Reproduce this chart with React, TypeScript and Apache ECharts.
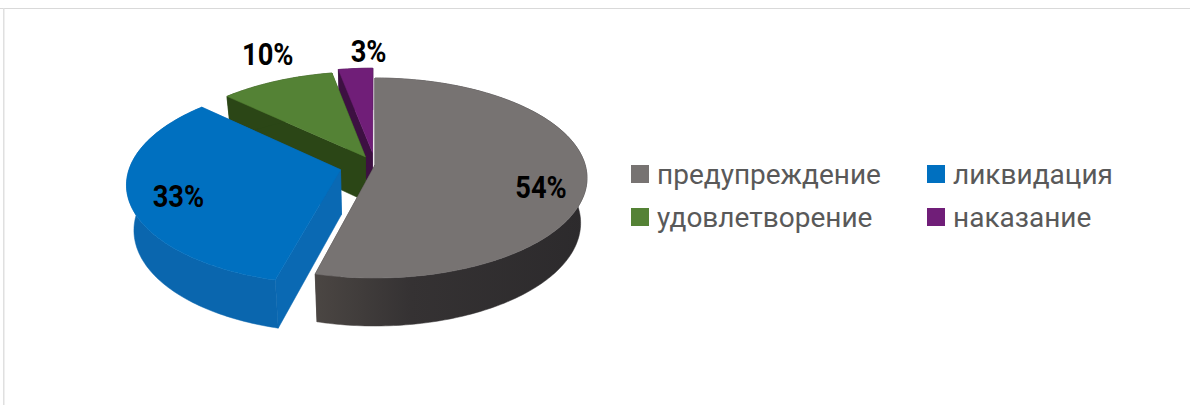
import React, { useEffect, useRef } from "react";
import * as echarts from "echarts";

const categories = ["предупреждение", "ликвидация", "удовлетворение", "наказание"];
const shares = [54, 33, 10, 3];
const topColors = ["#777372", "#0070C0", "#548235", "#701E78"];
const sideColors: any[] = [
  { type: "linear", x: 0, y: 0, x2: 1, y2: 0, colorStops: [{ offset: 0, color: "#4b4643" }, { offset: 0.35, color: "#353233" }, { offset: 1, color: "#2c2a2c" }] },
  "#0a66ae",
  "#2b4616",
  "#3d1042",
];
const cutColors = ["#3a3735", "#0a69b3", "#2b4616", "#3d1042"];
const explode = [0, 0.17, 0.095, 0.13];
const labelRadius = [0.8, 0.78, 1.2, 1.2];
const labelShift = [[-3, 12], [2, 4], [7, -13], [16, -3]];
const paintOrder = [3, 2, 0, 1];

const CX = 375, CY = 178, RX = 212, RY = 100, E = -0.13, BOTTOM_SHRINK = 0.97;
const S = Math.sqrt(1 - E * E);

function project(wx: number, wy: number) {
  const den = 1 + E * wy;
  const px = (wx * S) / den;
  const py = (wy + E) / den;
  return { x: CX + px * RX, y: CY + py * RY, depth: 45 + 3 * py };
}

const total = shares.reduce((a, b) => a + b, 0);
function sliceAngles(i: number) {
  let start = 0;
  for (let k = 0; k < i; k++) start += (shares[k] / total) * 360;
  return [start, start + (shares[i] / total) * 360];
}

function renderSlice(params: any, api: any) {
  const i = params.seriesIndex;
  const idx = paintOrder[i];
  const [a0, a1] = sliceAngles(idx);
  const rad = Math.PI / 180;
  const mid = ((a0 + a1) / 2) * rad;
  const ox = Math.sin(mid) * explode[idx];
  const oy = -Math.cos(mid) * explode[idx];
  const n = Math.max(4, Math.ceil(a1 - a0));
  const arc: any[] = [];
  for (let k = 0; k <= n; k++) {
    const t = (a0 + ((a1 - a0) * k) / n) * rad;
    arc.push(project(ox + Math.sin(t), oy - Math.cos(t)));
  }
  const apex = project(ox, oy);
  const down = (p: any) => [CX + (p.x - CX) * BOTTOM_SHRINK, p.y + p.depth];
  const up = (p: any) => [p.x, p.y];
  const outer = arc.map(up).concat(arc.slice().reverse().map(down));
  const first = arc[0], last = arc[arc.length - 1];
  const cut1 = [up(apex), up(first), down(first), down(apex)];
  const cut2 = [up(apex), up(last), down(last), down(apex)];
  const top = [up(apex)].concat(arc.map(up));
  const lab = project(ox + Math.sin(mid) * labelRadius[idx], oy - Math.cos(mid) * labelRadius[idx]);
  const poly = (points: any, fill: any) => ({ type: "polygon", shape: { points }, style: { fill, stroke: fill, lineWidth: 0.5 } });
  return {
    type: "group",
    children: [
      poly(cut2, cutColors[idx]),
      poly(cut1, cutColors[idx]),
      poly(outer, sideColors[idx]),
      poly(top, topColors[idx]),
      {
        type: "text",
        x: lab.x + labelShift[idx][0],
        y: lab.y + labelShift[idx][1],
        scaleX: 0.88,
        z2: 10,
        style: {
          text: api.value(0) + "%",
          fontFamily: "Roboto",
          fontWeight: "bold",
          fontSize: 31,
          align: "center",
          verticalAlign: "middle",
          fill: "#000",
        },
      },
    ],
  };
}

export default function App() {
  const ref = useRef<HTMLDivElement>(null);
  useEffect(() => {
    const chart = echarts.init(ref.current!, undefined, { renderer: "svg" });
    const legendBase = {
      orient: "vertical",
      icon: "rect",
      padding: 0,
      itemWidth: 18,
      itemHeight: 18,
      itemGap: 15,
      selectedMode: false,
      textStyle: { fontFamily: "Roboto", fontSize: 28, color: "#595959", padding: [0, 0, 0, 3] },
    };
    chart.setOption({
      animation: false,
      backgroundColor: "#fff",
      graphic: [
        { type: "rect", shape: { x: 0, y: 8, width: 1190, height: 1 }, style: { fill: "#d9d9d9" } },
        { type: "rect", shape: { x: 3, y: 8, width: 1.5, height: 397 }, style: { fill: "#e0e0e0" } },
      ],
      legend: [
        { ...legendBase, left: 631, top: 160, data: [categories[0], categories[2]] },
        { ...legendBase, left: 927, top: 160, data: [categories[1], categories[3]] },
      ],
      series: paintOrder.map((idx, order) => ({
        type: "custom",
        name: categories[idx],
        coordinateSystem: "none",
        z: 2 + order,
        silent: true,
        itemStyle: { color: topColors[idx] },
        data: [[shares[idx]]],
        renderItem: renderSlice,
      })),
    });
    return () => chart.dispose();
  }, []);
  return <div ref={ref} style={{ position: "absolute", left: 0, top: 0, width: 1190, height: 405 }} />;
}
